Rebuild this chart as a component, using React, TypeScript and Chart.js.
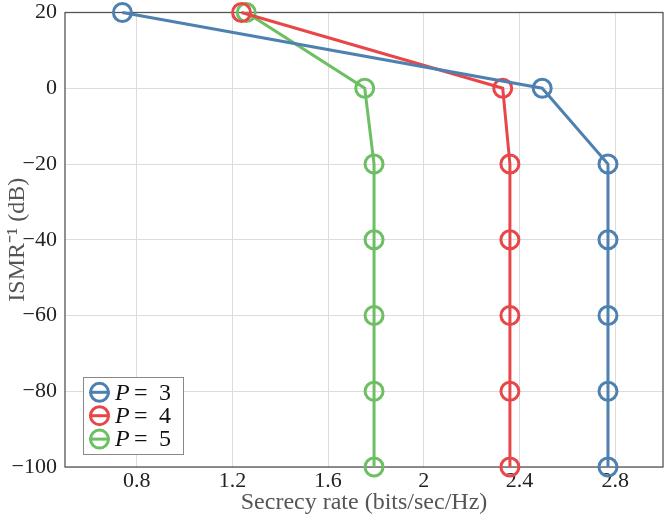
import { useEffect, useRef } from 'react';
import Chart from 'chart.js/auto';

// ISMR^-1 levels (dB) on the y axis, secrecy rate per P on the x axis
const ismrLevels = [20, 0, -20, -40, -60, -80, -100];
const rateP3 = [0.74, 2.495, 2.77, 2.77, 2.77, 2.77, 2.77];
const rateP4 = [1.238, 2.33, 2.36, 2.36, 2.36, 2.36, 2.36];
const rateP5 = [1.258, 1.753, 1.792, 1.792, 1.792, 1.792, 1.792];
const seriesP = ['3', '4', '5'];
const seriesColors = ['#4f81b0', '#e8474a', '#6cbf63'];
const xTickValues = [0.8, 1.2, 1.6, 2, 2.4, 2.8];
const yTickValues = [20, 0, -20, -40, -60, -80, -100];

const SERIF = '"Liberation Serif", "Times New Roman", serif';

const framePlugin = {
    id: 'frame',
    beforeDatasetsDraw(chart: any) {
        const { ctx, chartArea: a } = chart;
        ctx.save();
        ctx.strokeStyle = '#555';
        ctx.lineWidth = 1.3;
        ctx.strokeRect(a.left, a.top, a.right - a.left, a.bottom - a.top);
        ctx.restore();
    },
};

const legendPlugin = {
    id: 'boxLegend',
    afterDraw(chart: any) {
        const { ctx } = chart;
        const left = 83.5, top = 377.5, w = 100, h = 77;
        ctx.save();
        ctx.fillStyle = '#fff';
        ctx.fillRect(left, top, w, h);
        ctx.strokeStyle = '#888';
        ctx.lineWidth = 1;
        ctx.strokeRect(left, top, w, h);
        chart.data.datasets.forEach((ds: any, i: number) => {
            const cy = 392.3 + i * 23.4;
            const cx = 99.5;
            ctx.strokeStyle = ds.borderColor;
            ctx.lineWidth = 3;
            ctx.beginPath();
            ctx.moveTo(cx - 10, cy);
            ctx.lineTo(cx + 10, cy);
            ctx.stroke();
            ctx.beginPath();
            ctx.arc(cx, cy, 9, 0, Math.PI * 2);
            ctx.stroke();
            ctx.fillStyle = '#111';
            ctx.textBaseline = 'middle';
            ctx.textAlign = 'left';
            ctx.font = `italic 24px ${SERIF}`;
            ctx.fillText('P', 115, cy + 1);
            ctx.font = `24px ${SERIF}`;
            ctx.fillText('=', 134, cy + 1);
            ctx.fillText(seriesP[i], 159, cy + 1);
        });
        ctx.restore();
    },
};

export default function App() {
    const canvasRef = useRef<HTMLCanvasElement | null>(null);

    useEffect(() => {
        if (!canvasRef.current) {
            return;
        }

        const series = [rateP3, rateP4, rateP5];
        const chart = new Chart(canvasRef.current, {
            type: 'line',
            data: {
                datasets: series.map((rates, i) => ({
                    label: 'P = ' + seriesP[i],
                    data: rates.map((r, j) => ({ x: r, y: ismrLevels[j] })),
                    borderColor: seriesColors[i],
                    backgroundColor: 'rgba(0,0,0,0)',
                    borderWidth: 3,
                    pointRadius: 9,
                    pointBorderWidth: 3,
                    pointBackgroundColor: 'rgba(0,0,0,0)',
                    pointBorderColor: seriesColors[i],
                    tension: 0,
                    clip: false,
                })),
            },
            plugins: [framePlugin, legendPlugin],
            options: {
                animation: false,
                responsive: true,
                maintainAspectRatio: false,
                layout: { autoPadding: false, padding: { top: 12.5, right: 1, left: 0, bottom: 0 } },
                plugins: { legend: { display: false }, tooltip: { enabled: false } },
                scales: {
                    x: {
                        type: 'linear',
                        min: 0.5,
                        max: 3.0,
                        afterBuildTicks: (scale: any) => { scale.ticks = xTickValues.map(v => ({ value: v })); },
                        afterFit: (scale: any) => {
                            scale.height = 55;
                            scale.paddingLeft = 0;
                            scale.paddingRight = 0;
                        },
                        border: { display: false },
                        grid: { color: '#dcdcdc', lineWidth: 1, drawTicks: false },
                        ticks: {
                            padding: 1,
                            color: '#222',
                            font: { family: SERIF, size: 22, lineHeight: 1.2 },
                            callback: (v: any) => String(v),
                        },
                        title: {
                            display: true,
                            text: 'Secrecy rate (bits/sec/Hz)',
                            color: '#555',
                            font: { family: SERIF, size: 24, lineHeight: 1.2 },
                            padding: { top: 0, bottom: 4.5 },
                        },
                    },
                    y: {
                        type: 'linear',
                        min: -100,
                        max: 20,
                        afterBuildTicks: (scale: any) => { scale.ticks = yTickValues.map(v => ({ value: v })); },
                        afterFit: (scale: any) => {
                            scale.width = 65;
                            scale.paddingTop = 0;
                            scale.paddingBottom = 0;
                        },
                        border: { display: false },
                        grid: { color: '#dcdcdc', lineWidth: 1, drawTicks: false },
                        ticks: {
                            padding: 8,
                            color: '#222',
                            font: { family: SERIF, size: 22, lineHeight: 1.2 },
                            callback: (v: any) => (v < 0 ? '\u2212' + Math.abs(v) : String(v)),
                        },
                        title: {
                            display: true,
                            text: 'ISMR\u207B\u00B9 (dB)',
                            color: '#555',
                            font: { family: SERIF, size: 24, lineHeight: 1.2 },
                            padding: { top: 3.5, bottom: 0 },
                        },
                    },
                },
            },
        });
        return () => chart.destroy();
    }, []);

    return (
        <div style={{ position: 'absolute', left: 0, top: 0, width: '664px', height: '522px', background: '#fff' }}>
            <canvas ref={canvasRef} />
        </div>
    );
}
